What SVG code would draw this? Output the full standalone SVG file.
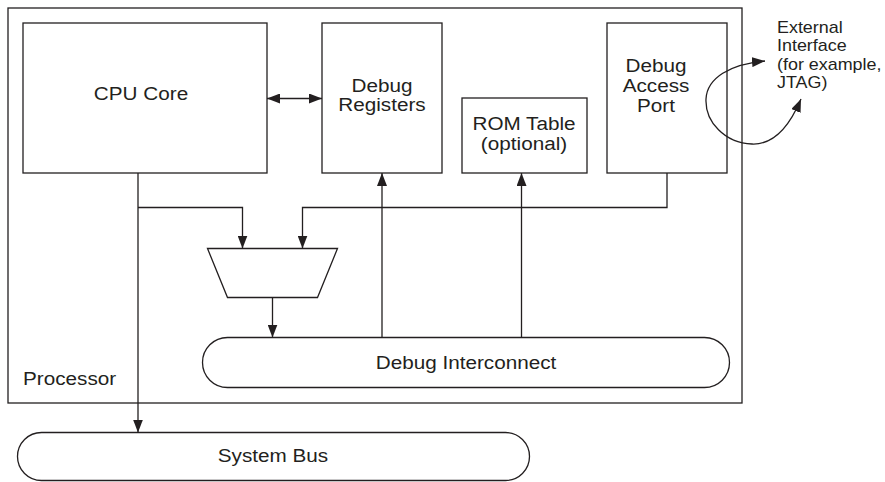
<svg xmlns="http://www.w3.org/2000/svg" width="885" height="482" viewBox="0 0 885 482">
  <style>
    .box { fill: none; stroke: #231f20; stroke-width: 1.3; }
    .wire { fill: none; stroke: #231f20; stroke-width: 1.3; }
    .lbl { font-family: "Liberation Sans", Arial, sans-serif; font-size: 19px; fill: #231f20; text-anchor: middle; }
    .lbl-l { font-family: "Liberation Sans", Arial, sans-serif; font-size: 19px; fill: #231f20; }
    .ext { font-family: "Liberation Sans", Arial, sans-serif; font-size: 16px; fill: #231f20; }
  </style>
  <defs>
    <marker id="arrow" markerUnits="userSpaceOnUse" markerWidth="14" markerHeight="10" refX="13" refY="5" orient="auto-start-reverse">
      <path d="M0,0 L13,5 L0,10 z" fill="#231f20"/>
    </marker>
  </defs>
  <rect width="885" height="482" fill="#ffffff"/>

  <!-- Processor boundary; labels use a slightly wide letterform (x-scale 1.09) -->
  <g id="processor">
    <rect class="box" x="8" y="8" width="734" height="395"/>
    <text class="lbl-l" transform="translate(23,385) scale(1.09,1)">Processor</text>
  </g>

  <g id="cpu-core">
    <rect class="box" x="23" y="23" width="244" height="150"/>
    <text class="lbl" transform="translate(141,100) scale(1.09,1)">CPU Core</text>
  </g>

  <g id="debug-registers">
    <rect class="box" x="322" y="23" width="120" height="150"/>
    <text class="lbl" transform="translate(382,92) scale(1.09,1)">Debug</text>
    <text class="lbl" transform="translate(382,111) scale(1.09,1)">Registers</text>
  </g>

  <g id="rom-table">
    <rect class="box" x="462" y="98" width="125" height="75"/>
    <text class="lbl" transform="translate(524,130) scale(1.09,1)">ROM Table</text>
    <text class="lbl" transform="translate(524,150) scale(1.09,1)">(optional)</text>
  </g>

  <g id="debug-access-port">
    <rect class="box" x="607" y="23" width="120" height="150"/>
    <text class="lbl" transform="translate(656,72) scale(1.09,1)">Debug</text>
    <text class="lbl" transform="translate(656,92) scale(1.09,1)">Access</text>
    <text class="lbl" transform="translate(656,112) scale(1.09,1)">Port</text>
  </g>

  <g id="mux">
    <polygon class="box" points="207.5,248.5 337.5,248.5 317.5,297.5 227.5,297.5"/>
  </g>

  <g id="debug-interconnect">
    <rect class="box" x="202.5" y="337.5" width="527" height="50" rx="25" ry="25"/>
    <text class="lbl" transform="translate(466,369) scale(1.09,1)">Debug Interconnect</text>
  </g>

  <g id="system-bus">
    <rect class="box" x="17.5" y="432.5" width="512" height="48" rx="24" ry="24"/>
    <text class="lbl" transform="translate(273,462) scale(1.09,1)">System Bus</text>
  </g>

  <g id="external-interface">
    <text class="ext" transform="translate(777,33) scale(1.12,1)">External</text>
    <text class="ext" transform="translate(777,51) scale(1.12,1)">Interface</text>
    <text class="ext" transform="translate(777,70) scale(1.12,1)">(for example,</text>
    <text class="ext" transform="translate(777,88) scale(1.12,1)">JTAG)</text>
  </g>

  <!-- Connectors -->
  <g id="connectors">
    <line class="wire" x1="267" y1="98.5" x2="322" y2="98.5" marker-start="url(#arrow)" marker-end="url(#arrow)"/>
    <line class="wire" x1="138" y1="173" x2="138" y2="432.5" marker-end="url(#arrow)"/>
    <polyline class="wire" points="138,207.5 242.5,207.5 242.5,248.5" marker-end="url(#arrow)"/>
    <polyline class="wire" points="667,173 667,207.5 302.5,207.5 302.5,248.5" marker-end="url(#arrow)"/>
    <line class="wire" x1="272.5" y1="297.5" x2="272.5" y2="337.5" marker-end="url(#arrow)"/>
    <line class="wire" x1="382" y1="337.5" x2="382" y2="173" marker-end="url(#arrow)"/>
    <line class="wire" x1="521.5" y1="337.5" x2="521.5" y2="173" marker-end="url(#arrow)"/>
    <path class="wire" d="M801,99 C790,125 775,145 752,144 C725,143 705,122 706,99 C707,78 730,64 765,61" marker-start="url(#arrow)" marker-end="url(#arrow)"/>
  </g>
</svg>
